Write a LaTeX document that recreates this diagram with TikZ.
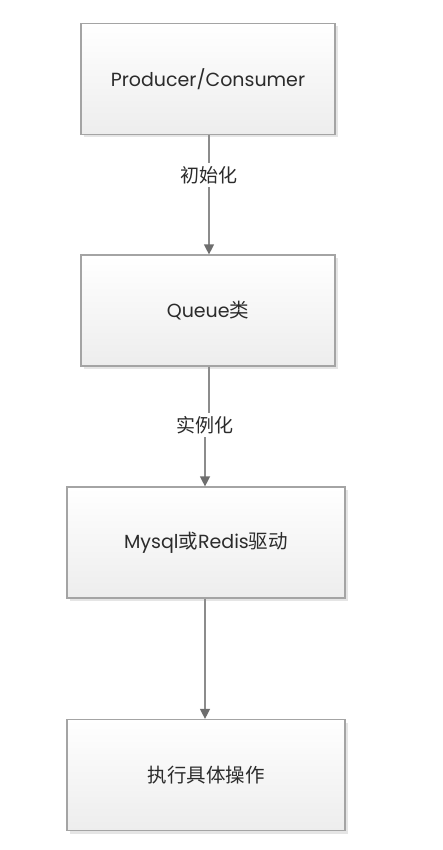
\documentclass[tikz,border=0pt]{standalone}
\usepackage{fontspec}
\setmainfont{Poppins}
\newfontfamily\cjk{Noto Sans CJK SC}
\usetikzlibrary{shadows,arrows.meta}
\definecolor{boxline}{HTML}{A4A4A4}
\definecolor{boxbot}{HTML}{EDEDED}
\definecolor{arrowc}{HTML}{8C8C8C}
\definecolor{tipc}{HTML}{6E6E6E}
\definecolor{txt}{HTML}{2B2B2B}
\newcommand{\cj}[1]{{\cjk\fontsize{19.5}{22}\selectfont #1}}
\tikzset{
  flowbox/.style={draw=boxline, line width=1.2pt, top color=white, bottom color=boxbot,
    minimum height=111pt, inner sep=0pt, text=txt, font=\fontsize{19}{22}\selectfont,
    drop shadow={shadow xshift=3pt, shadow yshift=-3pt, fill=black!10, opacity=1}},
  narrow/.style={flowbox, minimum width=254pt},
  wide/.style={flowbox, minimum width=278pt},
  conn/.style={draw=arrowc, line width=1.3pt},
  arr/.style={conn, -{Triangle[length=10pt, width=10pt, fill=tipc, color=tipc]}},
  lbl/.style={inner sep=3pt, text=txt, font=\cjk\fontsize{19}{22}\selectfont}
}
\begin{document}
\begin{tikzpicture}[x=1pt,y=-1pt]
\useasboundingbox (0,0) rectangle (442,850);
\node[narrow] (b1) at (208,79) {Producer/Consumer};
\node[narrow] (b2) at (208,310.5) {Queue\cj{类}};
\node[wide] (b3) at (206,542.5) {Mysql\cj{或}Redis\cj{驱动}};
\node[wide] (b4) at (206,775) {\cj{执行具体操作}};
\node[lbl] (l1) at (209,175) {初始化};
\node[lbl] (l2) at (205,425) {实例化};
\draw[conn] (b1.south -| l1.north) -- (l1.north);
\draw[arr] (l1.south) -- (b2.north -| l1.south);
\draw[conn] (b2.south -| l1.north) -- (l1.north |- l2.north);
\draw[arr] (l2.south) -- (b3.north -| l2.south);
\draw[arr] (b3.south -| l2.south) -- (b4.north -| l2.south);
\end{tikzpicture}
\end{document}
